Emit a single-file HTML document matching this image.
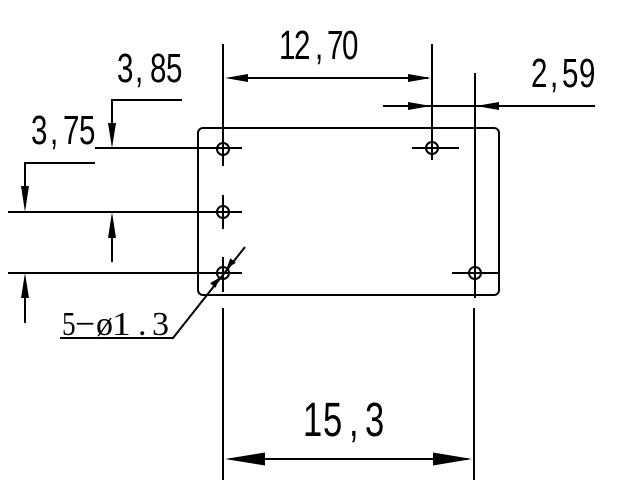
<!DOCTYPE html>
<html><head><meta charset="utf-8"><style>
html,body{margin:0;padding:0;background:#fff;}
svg{display:block;}
text{font-family:"Liberation Sans",sans-serif;fill:#000;}
.s{font-family:"Liberation Serif","Noto Serif CJK SC",serif;}
</style></head><body>
<svg width="640" height="495" viewBox="0 0 640 495" xmlns="http://www.w3.org/2000/svg">
<g stroke="#000" stroke-width="2" fill="none" stroke-linecap="butt">
  <rect x="198" y="128" width="301" height="167" rx="5" ry="5"/>
  <circle cx="223" cy="149" r="6"/>
  <circle cx="223" cy="212" r="6"/>
  <circle cx="223" cy="273" r="6"/>
  <circle cx="432" cy="148" r="6"/>
  <circle cx="475" cy="273" r="6"/>
  <line x1="223" y1="44" x2="223" y2="166"/>
  <line x1="223" y1="195" x2="223" y2="229"/>
  <line x1="223" y1="257" x2="223" y2="292"/>
  <line x1="432" y1="44" x2="432" y2="160"/>
  <line x1="475" y1="73" x2="475" y2="298"/>
  <line x1="223" y1="308" x2="223" y2="480"/>
  <line x1="474" y1="308" x2="474" y2="480"/>
  <line x1="95" y1="148" x2="242" y2="148"/>
  <line x1="8" y1="212" x2="242" y2="212"/>
  <line x1="8" y1="273" x2="242" y2="273"/>
  <line x1="412" y1="148" x2="459" y2="148"/>
  <line x1="452" y1="273" x2="498" y2="273"/>
  <polyline points="182,100 112,100 112,130"/>
  <line x1="112" y1="230" x2="112" y2="262"/>
  <polyline points="95,163 25,163 25,190"/>
  <line x1="25" y1="295" x2="25" y2="323"/>
  <line x1="230" y1="78" x2="428" y2="78"/>
  <line x1="383" y1="106" x2="595" y2="106"/>
  <line x1="230" y1="459" x2="468" y2="459"/>
  <polyline points="245,247 173,338 60,338"/>
</g>
<g fill="#000" stroke="none">
  <polygon points="112,148 108,123 116,123"/>
  <polygon points="112,212 108,238 116,238"/>
  <polygon points="25,212 21,186 29,186"/>
  <polygon points="25,273 21,298 29,298"/>
  <polygon points="225,78 248,74 248,82"/>
  <polygon points="431,78 408,74 408,82"/>
  <polygon points="431,106 408,102 408,110"/>
  <polygon points="476,106 499,102 499,110"/>
  <polygon points="225,459 265,452.5 265,465.5"/>
  <polygon points="472,459 433,452.5 433,465.5"/>
  <polygon points="226.7,268.3 230.3,258.3 236.0,262.8"/>
  <polygon points="219.3,277.7 215.7,287.7 210.0,283.2"/>
</g>
<!-- 3,85 -->
<g font-size="41">
  <text transform="translate(117,82) scale(0.72,1)">3</text>
  <text transform="translate(135,82) scale(0.72,1)">,</text>
  <text transform="translate(150,82) scale(0.72,1)">8</text>
  <text transform="translate(166,82) scale(0.72,1)">5</text>
</g>
<!-- 3,75 -->
<g font-size="41">
  <text transform="translate(31,144) scale(0.72,1)">3</text>
  <text transform="translate(50,144) scale(0.72,1)">,</text>
  <text transform="translate(63,144) scale(0.72,1)">7</text>
  <text transform="translate(79,144) scale(0.72,1)">5</text>
</g>
<!-- 12,70 -->
<g font-size="41">
  <text transform="translate(279,59) scale(0.72,1)">1</text>
  <text transform="translate(294,59) scale(0.72,1)">2</text>
  <text transform="translate(315,59) scale(0.72,1)">,</text>
  <text transform="translate(327,59) scale(0.72,1)">7</text>
  <text transform="translate(342,59) scale(0.72,1)">0</text>
</g>
<!-- 2,59 -->
<g font-size="41">
  <text transform="translate(531,87) scale(0.72,1)">2</text>
  <text transform="translate(550,87) scale(0.72,1)">,</text>
  <text transform="translate(562,87) scale(0.72,1)">5</text>
  <text transform="translate(579,87) scale(0.72,1)">9</text>
</g>
<!-- 15,3 -->
<g font-size="48">
  <text transform="translate(303,436) scale(0.72,1)">1</text>
  <text transform="translate(323,436) scale(0.72,1)">5</text>
  <text transform="translate(349,436) scale(0.72,1)">,</text>
  <text transform="translate(365,436) scale(0.72,1)">3</text>
</g>
<!-- 5-⌀1.3 -->
<g class="s" font-size="34">
  <text class="s" transform="translate(62,335) scale(0.8,1)">5</text>
  <text class="s" transform="translate(75,335) scale(1.05,1)">−</text>
  <text class="s" transform="translate(96,335)" font-size="34">ø</text>
  <text class="s" transform="translate(112,335) scale(1.1,1)">1</text>
  <text class="s" transform="translate(138,335)">.</text>
  <text class="s" transform="translate(152,335)">3</text>
</g>
</svg>
</body></html>
